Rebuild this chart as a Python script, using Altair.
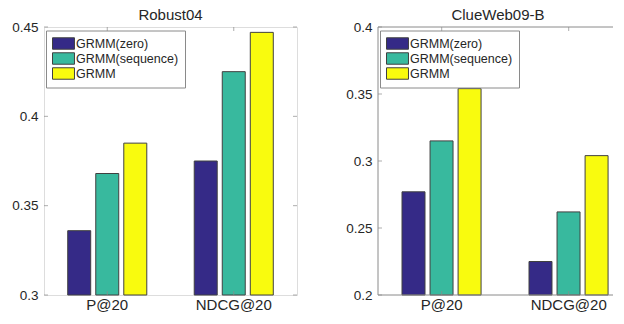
import altair as alt
import pandas as pd

metrics = ["P@20", "NDCG@20"]
methods = ["GRMM(zero)", "GRMM(sequence)", "GRMM"]
colors = ["#352a87", "#38b99e", "#f9fb0e"]

robust_zero = [0.336, 0.375]
robust_seq = [0.368, 0.425]
robust_grmm = [0.385, 0.447]

clue_zero = [0.277, 0.225]
clue_seq = [0.315, 0.262]
clue_grmm = [0.354, 0.304]

robust_ticks = [0.3, 0.35, 0.4, 0.45]
clue_ticks = [0.2, 0.25, 0.3, 0.35, 0.4]
robust_domain = [0.3, 0.45]
clue_domain = [0.2, 0.4]

FONT = "Liberation Sans"
GRAY = "#8a8a8a"
TXT = "#262626"
H = 268

rect_path = "M-1,-0.88H2.38V0.88H-1Z"


def panel(title, series, ticks, domain, width, x_scale, own_frame):
    rows = []
    for m_i, m in enumerate(metrics):
        for s_i, s in enumerate(methods):
            rows.append({"metric": m, "method": s, "value": series[s_i][m_i]})
    df = pd.DataFrame(rows)
    tick_df = pd.DataFrame({"value": ticks})
    cat_df = pd.DataFrame({"metric": metrics})

    y_scale = alt.Scale(domain=domain, nice=False, zero=False)
    x_enc = alt.X(
        "metric:N", sort=metrics, scale=x_scale, title=None,
        axis=alt.Axis(title=None, labelAngle=0, ticks=False, tickSize=0, domain=False,
                      labelFontSize=15, labelFont=FONT, labelColor=TXT, labelPadding=2),
    )
    y_enc = alt.Y(
        "value:Q", scale=y_scale, title=None,
        axis=alt.Axis(title=None, values=ticks, ticks=False, tickSize=0, domain=False, grid=False,
                      labelFontSize=13.5, labelFont=FONT, labelColor=TXT, labelPadding=6,
                      format="~g"),
    )
    bars = alt.Chart(df).mark_bar(stroke="#404040", strokeWidth=1, opacity=1).encode(
        x=x_enc,
        xOffset=alt.XOffset("method:N", sort=methods,
                            scale=alt.Scale(paddingInner=0.18, paddingOuter=0)),
        y=y_enc,
        y2=alt.datum(domain[0]),
        color=alt.Color(
            "method:N", sort=methods,
            scale=alt.Scale(domain=methods, range=colors),
            legend=alt.Legend(
                title=None, orient="none", legendX=2, legendY=3.5, padding=6,
                strokeColor=GRAY, fillColor="white", cornerRadius=0,
                symbolType=rect_path, symbolSize=169, symbolStrokeColor="#404040",
                symbolStrokeWidth=1, symbolOpacity=1,
                labelFontSize=12.5, labelFont=FONT, labelColor=TXT,
                labelOffset=10, rowPadding=-6,
            ),
        ),
    )
    tk = dict(size=4, thickness=1, color=GRAY)
    ytick_l = alt.Chart(tick_df).mark_tick(orient="horizontal", **tk).encode(
        y=y_enc, x=alt.value(2))
    ytick_r = alt.Chart(tick_df).mark_tick(orient="horizontal", **tk).encode(
        y=y_enc, x=alt.value(width - 2))
    xtick_b = alt.Chart(cat_df).mark_tick(orient="vertical", **tk).encode(
        x=x_enc, y=alt.value(H - 2))
    xtick_t = alt.Chart(cat_df).mark_tick(orient="vertical", **tk).encode(
        x=x_enc, y=alt.value(2))
    layers = [bars, ytick_l, ytick_r, xtick_b, xtick_t]
    props = dict(width=width, height=H,
                 title=alt.TitleParams(title, fontSize=15, fontWeight="normal", font=FONT,
                                       color=TXT, offset=-3))
    if own_frame:
        one = pd.DataFrame({"k": [0]})
        layers.append(alt.Chart(one).mark_rule(color=GRAY, strokeWidth=1).encode(
            x=alt.value(0), x2=alt.value(width), y=alt.value(0)))
        layers.append(alt.Chart(one).mark_rule(color=GRAY, strokeWidth=1).encode(
            x=alt.value(0), x2=alt.value(width), y=alt.value(H)))
        layers.append(alt.Chart(one).mark_rule(color=GRAY, strokeWidth=1).encode(
            x=alt.value(0), y=alt.value(0), y2=alt.value(H)))
        props["view"] = alt.ViewBackground(stroke="transparent")
    return alt.layer(*layers).properties(**props)


left = panel("Robust04", [robust_zero, robust_seq, robust_grmm], robust_ticks, robust_domain,
             253, alt.Scale(paddingInner=0.375, paddingOuter=0.1875), False)
right = panel("ClueWeb09-B", [clue_zero, clue_seq, clue_grmm], clue_ticks, clue_domain,
              240, alt.Scale(paddingInner=0.375, paddingOuter=0.1324, align=0.714), True)

chart = alt.hconcat(left, right, spacing=47).resolve_scale(
    y="independent", color="independent").resolve_legend(color="independent").configure_view(
    stroke=GRAY, strokeWidth=1).configure(
    padding={"left": 3, "top": -1, "right": -6, "bottom": 0}, background="white")

chart.save("out.html", embed_options={"renderer": "svg", "actions": False})
